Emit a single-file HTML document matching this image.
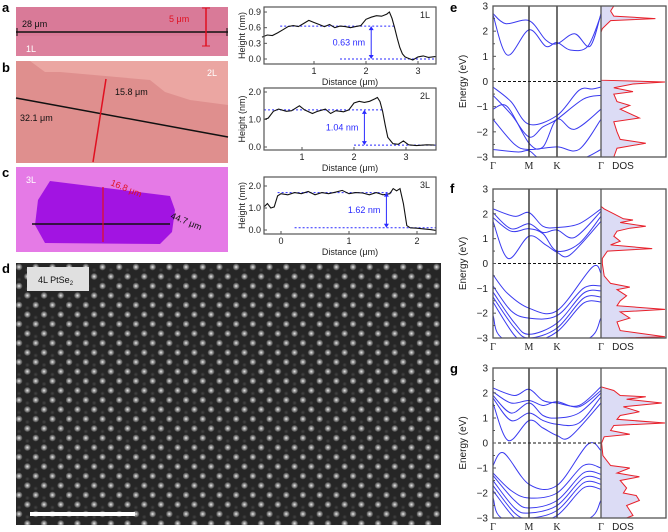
<!DOCTYPE html>
<html><head><meta charset="utf-8">
<style>
html,body{margin:0;padding:0;background:#fff;}
svg{display:block;font-family:"Liberation Sans",sans-serif;}
</style></head>
<body>
<svg id="fig" width="668" height="532" viewBox="0 0 668 532" xmlns="http://www.w3.org/2000/svg">
<defs>
<radialGradient id="dotg"><stop offset="0" stop-color="#fff" stop-opacity="0.95"/><stop offset="0.5" stop-color="#ccc" stop-opacity="0.6"/><stop offset="1" stop-color="#fff" stop-opacity="0"/></radialGradient>
<radialGradient id="dotd"><stop offset="0" stop-color="#666" stop-opacity="0.5"/><stop offset="1" stop-color="#666" stop-opacity="0"/></radialGradient>
<pattern id="lat" x="16" y="263" width="16.7" height="19" patternUnits="userSpaceOnUse">
<rect width="16.7" height="19" fill="#262626"/>
<circle cx="3" cy="4" r="3.6" fill="url(#dotg)"/>
<circle cx="11.35" cy="13.5" r="3.6" fill="url(#dotg)"/>
<circle cx="11.35" cy="7" r="2.4" fill="url(#dotd)"/>
<circle cx="3" cy="16.5" r="2.4" fill="url(#dotd)"/>
</pattern>
</defs>

<g font-weight="bold" font-size="13" fill="#000">
<text x="2" y="12">a</text>
<text x="2" y="72">b</text>
<text x="2" y="177">c</text>
<text x="2" y="273">d</text>
<text x="450" y="12">e</text>
<text x="450" y="193">f</text>
<text x="450" y="373">g</text>
</g>

<g>
<rect x="16" y="7" width="212" height="49" fill="#d97a98"/>
<rect x="16" y="36" width="212" height="20" fill="#dd84a0" opacity="0.6"/>
<line x1="16" y1="32" x2="228" y2="32" stroke="#111" stroke-width="1.5"/>
<line x1="17" y1="28" x2="17" y2="36" stroke="#111"/><line x1="227" y1="28" x2="227" y2="36" stroke="#111"/>
<line x1="206" y1="8" x2="206" y2="46" stroke="#e01020" stroke-width="1.5"/>
<line x1="202" y1="8" x2="210" y2="8" stroke="#e01020"/><line x1="202" y1="46" x2="210" y2="46" stroke="#e01020"/>
<text x="22" y="27" font-size="9" fill="#111">28 μm</text>
<text x="169" y="22" font-size="9" fill="#e01020">5 μm</text>
<text x="26" y="52" font-size="9" fill="#fff">1L</text>
</g>
<g>
<rect x="16" y="61" width="212" height="102" fill="#df8f8e"/>
<polygon points="30,61 228,61 228,105 190,100 165,92 150,80 60,72 45,72" fill="#eba6a2"/>
<line x1="16" y1="98" x2="228" y2="137" stroke="#111" stroke-width="1.5"/>
<line x1="106" y1="79" x2="93" y2="162" stroke="#e01020" stroke-width="1.5"/>
<text x="115" y="95" font-size="9" fill="#111">15.8 μm</text>
<text x="20" y="121" font-size="9" fill="#111">32.1 μm</text>
<text x="207" y="76" font-size="9" fill="#fff">2L</text>
</g>
<g>
<rect x="16" y="167" width="212" height="85" fill="#e57ae6"/>
<polygon points="50,181 170,196 175,210 172,232 160,244 45,243 35,225 38,200" fill="#a214e2"/>
<line x1="32" y1="224" x2="170" y2="224" stroke="#111" stroke-width="1.5"/>
<line x1="103" y1="187" x2="103" y2="242" stroke="#e01020" stroke-width="1.2"/>
<text x="110" y="185" font-size="9" fill="#e01020" transform="rotate(22 110 185)">16.8 μm</text>
<text x="170" y="218" font-size="9" fill="#111" transform="rotate(22 170 218)">44.7 μm</text>
<text x="26" y="183" font-size="9" fill="#fff">3L</text>
</g>

<g>
<rect x="16" y="263" width="425" height="262" fill="url(#lat)"/>
<rect x="27" y="267" width="62" height="24" fill="#e0e0e0"/>
<text x="38" y="283" font-size="9" fill="#111">4L PtSe<tspan font-size="6" dy="2">2</tspan></text>
<rect x="30" y="512" width="105" height="4" fill="#fff"/>
</g>

<g id="profiles"></g>
<g id="bands"></g>
</svg>

<script>
// ---------------- Height profile data ----------------
const profAx = [0,0.1,0.2,0.3,0.4,0.5,0.6,0.7,0.8,0.9,1.0,1.1,1.2,1.3,1.4,1.5,1.6,1.7,1.8,1.9,2.0,2.1,2.2,2.3,2.4,2.45,2.5,2.55,2.6,2.65,2.7,2.75,2.8,2.9,3.0,3.1,3.2,3.35];
const profAh = [0.42,0.46,0.45,0.5,0.56,0.62,0.64,0.62,0.68,0.74,0.7,0.66,0.62,0.66,0.6,0.63,0.62,0.6,0.62,0.64,0.76,0.8,0.83,0.82,0.86,0.9,0.78,0.6,0.4,0.22,0.1,0.04,0.02,-0.02,0.04,0.06,0.03,0.05];
const profBx = [0.27,0.35,0.45,0.55,0.7,0.8,0.95,1.05,1.2,1.3,1.45,1.55,1.65,1.8,1.9,2.0,2.1,2.2,2.3,2.4,2.45,2.5,2.55,2.6,2.65,2.75,2.85,2.95,3.05,3.2,3.4,3.55];
const profBh = [1.0,1.05,1.3,1.38,1.3,1.32,1.5,1.35,1.22,1.3,1.38,1.22,1.32,1.28,1.35,1.6,1.66,1.62,1.66,1.75,1.8,1.65,1.3,0.8,0.35,0.12,0.1,0.22,0.08,0.05,0.08,0.07];
const profCx = [-0.25,-0.2,-0.15,-0.1,-0.05,0.0,0.1,0.2,0.3,0.4,0.5,0.6,0.7,0.8,0.9,1.0,1.1,1.2,1.3,1.4,1.5,1.6,1.65,1.7,1.75,1.8,1.85,1.9,2.0,2.1,2.2,2.28];
const profCh = [1.05,1.2,1.0,1.05,1.55,1.65,1.6,1.7,1.65,1.75,1.6,1.7,1.65,1.72,1.8,1.65,1.7,1.68,1.6,1.7,1.6,1.65,1.88,1.78,1.88,1.2,0.2,0.1,0.08,0.05,0.02,-0.02];
const profAticksY = ["0.0","0.3","0.6","0.9"];
const profBticksY = ["0.0","1.0","2.0"];
const profCticksY = ["0.0","1.0","2.0"];

// ---------------- Band structure data ----------------
const kLabels = ["Γ","M","K","Γ"];
const eTicks = [3,2,1,0,-1,-2,-3];
const bandsE = [
 [[0,2.7],[0.35,2.3],[1,2.42],[1.6,1.65],[2,1.5],[2.4,1.9],[2.75,1.4],[3,2.7]],
 [[0,2.65],[0.4,1.05],[1,2.05],[1.6,1.4],[2,1.55],[2.3,1.25],[2.7,1.4],[3,2.65]],
 [[0,-0.22],[0.5,-0.8],[1,-1.7],[2,-1.35],[2.5,-0.35],[2.8,-0.3],[3,-0.22]],
 [[0,-0.55],[0.5,-1.3],[1,-2.2],[1.5,-1.8],[2,-1.5],[2.6,-0.7],[3,-0.55]],
 [[0,-1.1],[0.4,-1.0],[1,-2.45],[1.5,-2.6],[2,-1.5],[2.4,-1.9],[3,-1.1]],
 [[0,-1.5],[0.6,-2.5],[1,-2.7],[2,-2.6],[2.5,-2.7],[3,-1.5]],
 [[0,-2.7],[0.7,-2.8],[1,-2.75],[1.5,-3.1],[2.5,-3.1],[3,-2.7]]
];
const bandsF = [
 [[0,2.2],[0.6,1.9],[1,2.05],[1.5,1.5],[2,1.45],[2.5,1.6],[3,2.2]],
 [[0,2.05],[0.5,1.4],[1,1.6],[1.5,1.25],[2,1.35],[2.4,1.05],[3,2.1]],
 [[0,1.85],[0.5,1.3],[1,1.4],[1.5,1.2],[2,0.5],[2.5,0.8],[3,1.9]],
 [[0,1.7],[0.42,0.2],[1,1.1],[1.6,0.75],[2,0.45],[2.3,0.35],[3,1.7]],
 [[0,-0.45],[0.4,-1.2],[1,-1.8],[2,-1.9],[2.8,-0.15],[3,-0.4]],
 [[0,-0.9],[0.5,-1.9],[1,-2.2],[2,-2.1],[2.6,-1.0],[3,-0.9]],
 [[0,-1.15],[0.6,-2.4],[1,-2.85],[2,-2.4],[2.6,-1.2],[3,-1.1]],
 [[0,-1.35],[0.6,-2.6],[1,-3.0],[2,-2.6],[2.6,-1.4],[3,-1.35]],
 [[0,-1.55],[0.6,-2.9],[1,-3.2],[2,-2.75],[2.6,-1.6],[3,-1.55]],
 [[0,-2.1],[0.4,-3.1],[2.6,-3.1],[3,-2.2]]
];
const bandsG = [
 [[0,2.2],[0.6,1.9],[1,2.15],[1.5,1.7],[2,1.6],[2.5,1.5],[3,2.25]],
 [[0,2.05],[0.5,1.6],[1,1.7],[1.5,1.5],[2,1.65],[2.5,1.45],[3,2.1]],
 [[0,1.9],[0.5,1.2],[1,1.6],[1.5,1.1],[2,1.0],[2.5,1.2],[3,2.0]],
 [[0,1.8],[0.5,0.9],[1,1.2],[1.5,0.9],[2,0.75],[2.5,0.8],[3,1.85]],
 [[0,1.6],[0.42,0.1],[1,0.9],[1.5,0.6],[2,0.3],[2.3,0.25],[3,1.6]],
 [[0,-0.9],[0.3,-0.4],[1,-1.65],[2,-1.7],[2.7,-0.05],[3,-0.3]],
 [[0,-1.2],[0.5,-1.9],[1,-2.2],[2,-2.0],[2.6,-0.9],[3,-1.0]],
 [[0,-1.3],[0.6,-2.3],[1,-2.6],[2,-2.3],[2.6,-1.2],[3,-1.25]],
 [[0,-1.5],[0.6,-2.6],[1,-2.8],[2,-2.5],[2.6,-1.4],[3,-1.45]],
 [[0,-1.7],[0.6,-2.8],[1,-3.0],[2,-2.7],[2.6,-1.6],[3,-1.65]],
 [[0,-1.9],[0.6,-3.0],[1,-3.2],[2,-2.9],[2.6,-1.8],[3,-1.85]],
 [[0,-2.2],[0.4,-3.1],[2.6,-3.1],[3,-2.3]]
];
const dosE = [[3,0.2],[2.8,0.15],[2.6,0.2],[2.5,0.85],[2.42,0.15],[2.1,0.02],[1.95,0],[0.05,0],[-0.02,1.0],[-0.1,0.5],[-0.25,0.2],[-0.4,0.5],[-0.5,0.2],[-0.8,0.25],[-0.95,0.45],[-1.1,0.3],[-1.45,0.6],[-1.6,0.2],[-2.0,0.25],[-2.3,0.3],[-2.45,0.7],[-2.65,0.25],[-3,0.2]];
const dosF = [[2.3,0],[2.2,0.05],[2.0,0.2],[1.8,0.35],[1.75,0.5],[1.65,0.3],[1.5,0.7],[1.42,0.45],[1.3,0.25],[1.1,0.2],[0.9,0.3],[0.75,0.15],[0.6,0.8],[0.5,0.1],[0.2,0.02],[0,0.02],[-0.5,0.05],[-0.8,0.15],[-0.95,0.45],[-1.05,0.25],[-1.3,0.4],[-1.5,0.3],[-1.7,0.25],[-1.85,1.0],[-1.95,0.3],[-2.2,0.45],[-2.35,0.25],[-2.7,0.3],[-2.95,1.0],[-3,0.3]];
const dosG = [[2.25,0],[2.1,0.2],[1.9,0.3],[1.85,0.7],[1.75,0.4],[1.6,0.95],[1.45,0.35],[1.25,0.6],[1.1,0.3],[0.95,0.25],[0.8,1.0],[0.7,0.2],[0.5,0.15],[0.35,0.45],[0.25,0.05],[0,0.01],[-0.5,0.03],[-0.9,0.15],[-1.0,0.45],[-1.2,0.25],[-1.35,0.6],[-1.5,0.3],[-1.8,0.4],[-2.0,0.35],[-2.1,0.55],[-2.3,0.6],[-2.5,0.4],[-2.7,0.45],[-2.9,0.5],[-3,0.4]];

const NS = "http://www.w3.org/2000/svg";
function mk(tag, attrs, parent){ const e=document.createElementNS(NS,tag); for(const k in attrs) e.setAttribute(k,attrs[k]); parent.appendChild(e); return e; }

function profile(cfg){
  const g = mk('g',{},document.getElementById('profiles'));
  
  
  const sx = v => cfg.x0px + v*cfg.pxPerX;
  const sy = v => cfg.y0px - v*cfg.pxPerY;
  const L=264, R=436;
  mk('line',{x1:sx(cfg.hiFrom),x2:sx(cfg.hiTo),y1:sy(cfg.hi),y2:sy(cfg.hi),stroke:'#2a2aff','stroke-dasharray':'2,2','stroke-width':1},g);
  mk('line',{x1:sx(cfg.loFrom),x2:R,y1:sy(cfg.lo),y2:sy(cfg.lo),stroke:'#2a2aff','stroke-dasharray':'2,2','stroke-width':1},g);
  let d=''; cfg.xs.forEach((x,i)=>{ d+=(i?'L':'M')+sx(x).toFixed(1)+','+sy(cfg.hs[i]).toFixed(1); });
  const tr = mk('path',{d:d,fill:'none',stroke:'#111','stroke-width':1.1},g);
  
  
  const ax = sx(cfg.arrowX);
  mk('line',{x1:ax,x2:ax,y1:sy(cfg.hi)+3,y2:sy(cfg.lo)-3,stroke:'#2a2aff','stroke-width':1},g);
  mk('polygon',{points:`${ax-2.5},${sy(cfg.hi)+4} ${ax+2.5},${sy(cfg.hi)+4} ${ax},${sy(cfg.hi)}`,fill:'#2a2aff'},g);
  mk('polygon',{points:`${ax-2.5},${sy(cfg.lo)-4} ${ax+2.5},${sy(cfg.lo)-4} ${ax},${sy(cfg.lo)}`,fill:'#2a2aff'},g);
  const t = mk('text',{x:ax-6,y:(sy(cfg.hi)+sy(cfg.lo))/2+3,'font-size':9,fill:'#2a2aff','text-anchor':'end'},g); t.textContent=cfg.label;
  mk('rect',{x:L,y:cfg.top,width:R-L,height:cfg.bot-cfg.top,fill:'none',stroke:'#555','stroke-width':1.2},g);
  cfg.yticks.forEach(s=>{ const v=parseFloat(s); const y=sy(v);
    mk('line',{x1:L,x2:L+3,y1:y,y2:y,stroke:'#555'},g);
    const tt=mk('text',{x:L-3,y:y+3,'font-size':9,'text-anchor':'end',fill:'#222'},g); tt.textContent=s; });
  cfg.xticks.forEach(v=>{ const x=sx(v); if(x<L-1||x>R+1) return;
    mk('line',{x1:x,x2:x,y1:cfg.bot,y2:cfg.bot-3,stroke:'#555'},g);
    const tt=mk('text',{x:x,y:cfg.bot+10,'font-size':9,'text-anchor':'middle',fill:'#222'},g); tt.textContent=String(v); });
  const yl=mk('text',{x:0,y:0,'font-size':9,'text-anchor':'middle',fill:'#222',transform:`translate(${L-19},${(cfg.top+cfg.bot)/2}) rotate(-90)`},g); yl.textContent='Height (nm)';
  
  
  const xl=mk('text',{x:(L+R)/2,y:cfg.bot+21,'font-size':9,'text-anchor':'middle',fill:'#222'},g); xl.textContent='Distance (μm)';
  
  
  const lt=mk('text',{x:R-6,y:cfg.top+11,'font-size':9,'text-anchor':'end',fill:'#222'},g); lt.textContent=cfg.layer;
}
profile({name:'height-profile-1l',xs:profAx,hs:profAh,x0px:262,pxPerX:52,y0px:59,pxPerY:52.2,top:7,bot:64,
  hi:0.63,hiFrom:0.35,hiTo:2.55,lo:0.0,loFrom:1.5,arrowX:2.1,label:'0.63 nm',yticks:profAticksY,xticks:[1,2,3],layer:'1L'});
profile({name:'height-profile-2l',xs:profBx,hs:profBh,x0px:250,pxPerX:52,y0px:147,pxPerY:27.5,top:88,bot:150,
  hi:1.35,hiFrom:0.27,hiTo:2.55,lo:0.07,loFrom:2.0,arrowX:2.2,label:'1.04 nm',yticks:profBticksY,xticks:[1,2,3],layer:'2L'});
profile({name:'height-profile-3l',xs:profCx,hs:profCh,x0px:281,pxPerX:68,y0px:230,pxPerY:22,top:177,bot:234,
  hi:1.7,hiFrom:-0.05,hiTo:1.65,lo:0.1,loFrom:0.2,arrowX:1.55,label:'1.62 nm',yticks:profCticksY,xticks:[0,1,2],layer:'3L'});

function catmull(pts){
  let d='M'+pts[0][0].toFixed(1)+','+pts[0][1].toFixed(1);
  for(let i=0;i<pts.length-1;i++){
    const p0=pts[Math.max(0,i-1)],p1=pts[i],p2=pts[i+1],p3=pts[Math.min(pts.length-1,i+2)];
    const c1x=p1[0]+(p2[0]-p0[0])/6,c1y=p1[1]+(p2[1]-p0[1])/6;
    const c2x=p2[0]-(p3[0]-p1[0])/6,c2y=p2[1]-(p3[1]-p1[1])/6;
    d+=`C${c1x.toFixed(1)},${c1y.toFixed(1)} ${c2x.toFixed(1)},${c2y.toFixed(1)} ${p2[0].toFixed(1)},${p2[1].toFixed(1)}`;
  }
  return d;
}

function bandPanel(name, top, bot, bands, dos){
  const g = mk('g',{},document.getElementById('bands'));
  
  
  const L=493, R=666, kx=[493,529,557,601];
  const sx = k => { const i=Math.min(2,Math.floor(k)); return kx[i]+(k-i)*(kx[i+1]-kx[i]); };
  const sy = e => top + (3-e)*(bot-top)/6;
  const dx = v => 601 + v*64;
  const clipId = 'clip-'+name;
  const cp = mk('clipPath',{id:clipId},g); mk('rect',{x:L,y:top,width:R-L,height:bot-top},cp);
  const inner = mk('g',{'clip-path':`url(#${clipId})`},g);
  const pts = dos.map(p=>[dx(p[1]),sy(p[0])]);
  let dd='M601,'+sy(dos[0][0]); pts.forEach(p=>{dd+='L'+p[0].toFixed(1)+','+p[1].toFixed(1);}); dd+='L601,'+sy(dos[dos.length-1][0])+'Z';
  const fill = mk('path',{d:dd,fill:'#dcdcf5',stroke:'none'},inner);
  
  
  let dl=''; pts.forEach((p,i)=>{dl+=(i?'L':'M')+p[0].toFixed(1)+','+p[1].toFixed(1);});
  const dosLine = mk('path',{d:dl,fill:'none',stroke:'#e8202a','stroke-width':1},inner);
  
  
  bands.forEach(b=>{
    const p = mk('path',{d:catmull(b.map(q=>[sx(q[0]),sy(q[1])])),fill:'none',stroke:'#3a3af0','stroke-width':1},inner);
    
    
  });
  mk('line',{x1:L,x2:601,y1:sy(0),y2:sy(0),stroke:'#111','stroke-dasharray':'3,2','stroke-width':1},g);
  [1,2].forEach(i=>mk('line',{x1:kx[i],x2:kx[i],y1:top,y2:bot,stroke:'#222','stroke-width':1.3},g));
  mk('line',{x1:601,x2:601,y1:top,y2:bot,stroke:'#555','stroke-width':1.3},g);
  mk('rect',{x:L,y:top,width:R-L,height:bot-top,fill:'none',stroke:'#555','stroke-width':1.3},g);
  eTicks.forEach(e=>{ const y=sy(e);
    mk('line',{x1:L,x2:L+3,y1:y,y2:y,stroke:'#555'},g);
    const t=mk('text',{x:L-5,y:y+3.5,'font-size':10,'text-anchor':'end',fill:'#222'},g); t.textContent=(e<0?'\u2212'+(-e):String(e)); });
  for(let e=-2.5;e<3;e+=1){ const y=sy(e); mk('line',{x1:L,x2:L+2,y1:y,y2:y,stroke:'#555'},g); }
  kLabels.forEach((s,i)=>{ const t=mk('text',{x:kx[i],y:bot+12,'font-size':10,'text-anchor':'middle',fill:'#222','font-family':'Liberation Serif, serif'},g); t.textContent=s; });
  const dt=mk('text',{x:623,y:bot+12,'font-size':10,'text-anchor':'middle',fill:'#222'},g); dt.textContent='DOS';
  const yl=mk('text',{x:0,y:0,'font-size':10,'text-anchor':'middle',fill:'#222',transform:`translate(${L-27},${(top+bot)/2}) rotate(-90)`},g); yl.textContent='Energy (eV)';
  
  
}
bandPanel('band-structure-1l',6,157,bandsE,dosE);
bandPanel('band-structure-2l',189,338,bandsF,dosF);
bandPanel('band-structure-3l',368,518,bandsG,dosG);
</script>
</body></html>
